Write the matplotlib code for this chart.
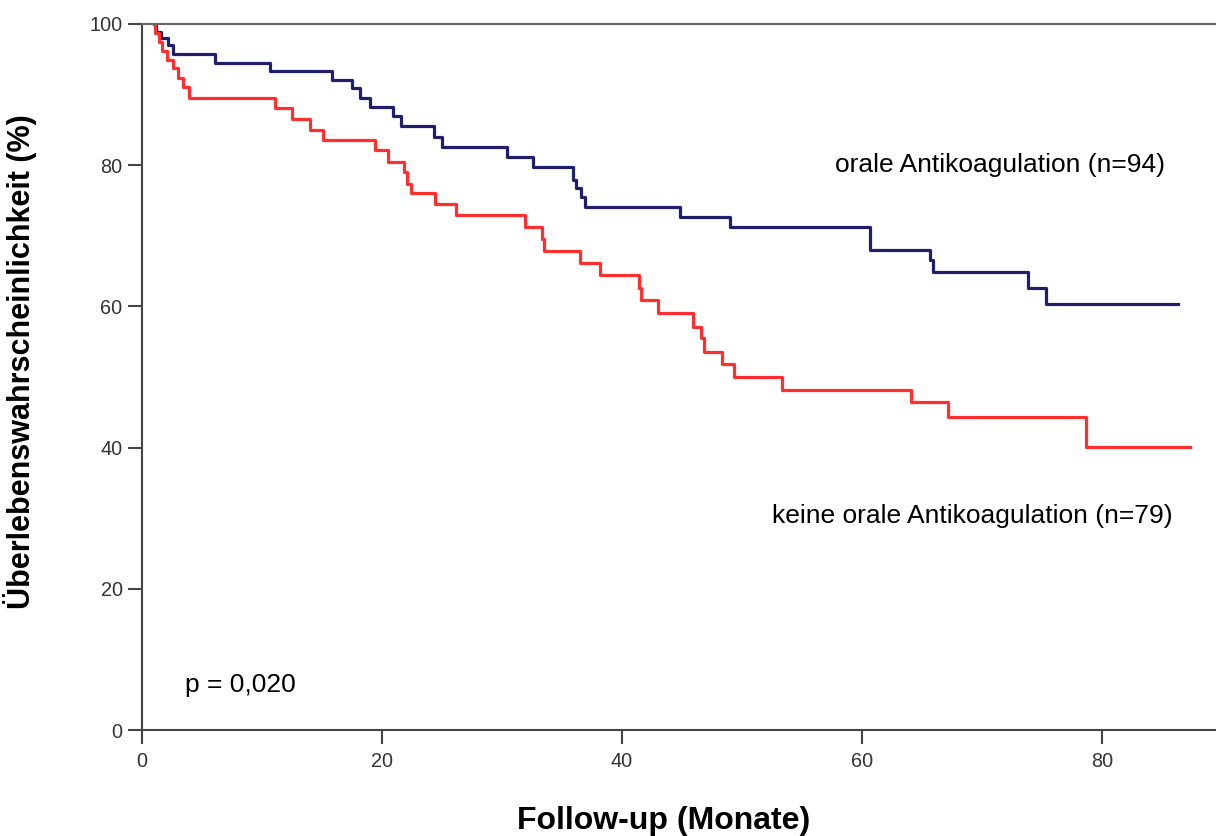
import matplotlib
matplotlib.use("Agg")
import matplotlib.pyplot as plt

# Kaplan-Meier Stufen (Monate, Überleben in %)
oak_t = [1.0, 1.2, 1.6, 2.2, 2.6, 6.1, 10.7, 15.8, 17.5, 18.2, 19.0, 20.9, 21.6, 24.3, 25.0,
         30.4, 32.6, 35.9, 36.2, 36.6, 36.9, 44.8, 49.0, 60.7, 65.7, 65.9, 73.8, 75.3, 86.3]
oak_s = [100, 98.9, 98.0, 97.0, 95.8, 94.5, 93.3, 92.1, 90.9, 89.5, 88.3, 86.9, 85.5, 84.0, 82.6,
         81.2, 79.8, 77.9, 76.8, 75.5, 74.1, 72.7, 71.3, 68.0, 66.6, 64.9, 62.6, 60.3, 60.3]

keine_t = [1.0, 1.1, 1.4, 1.7, 2.1, 2.6, 3.0, 3.4, 3.9, 11.1, 12.5, 14.0, 15.1, 19.4, 20.5,
           21.8, 22.1, 22.4, 24.4, 26.2, 31.9, 33.3, 33.5, 36.5, 38.2, 41.4, 41.6, 43.0, 45.9,
           46.6, 46.8, 48.3, 49.3, 53.3, 64.1, 67.2, 78.7, 87.3]
keine_s = [100, 98.7, 97.5, 96.2, 94.9, 93.7, 92.4, 91.1, 89.5, 88.1, 86.6, 85.0, 83.6, 82.2, 80.5,
           79.1, 77.4, 76.0, 74.5, 72.9, 71.3, 69.6, 67.8, 66.1, 64.4, 62.6, 60.9, 59.0, 57.1,
           55.5, 53.6, 51.9, 50.0, 48.2, 46.5, 44.4, 40.1, 40.1]

x_ticks = [0, 20, 40, 60, 80]
y_ticks = [0, 20, 40, 60, 80, 100]

plt.rcParams['font.family'] = ['Liberation Sans', 'DejaVu Sans']

fig = plt.figure(figsize=(12.16, 8.36), dpi=100)
ax = fig.add_axes([142 / 1216, 1 - 730 / 836, 1 - 142 / 1216, (730 - 24) / 836])

ax.step(oak_t, oak_s, where='post', color='#1f1f6e', lw=2.3)
ax.step(keine_t, keine_s, where='post', color='#ff2f2f', lw=2.3)

ax.set_xlim(0, 89.5)
ax.set_ylim(0, 100)
ax.set_xticks(x_ticks)
ax.set_yticks(y_ticks)

for side in ['left', 'bottom']:
    ax.spines[side].set_color('#444444')
    ax.spines[side].set_linewidth(1.5)
ax.spines['top'].set_color('#666666')
ax.spines['top'].set_linewidth(1.5)
ax.spines['right'].set_visible(False)

ax.tick_params(axis='x', direction='out', length=10, width=1.5, color='#444444',
               labelsize=14.3, labelcolor='#333333', pad=6)
ax.tick_params(axis='y', direction='out', length=10, width=1.5, color='#444444',
               labelsize=14.3, labelcolor='#333333', pad=4)

ax.text(57.75, 79.1, 'orale Antikoagulation (n=94)', fontsize=19, va='baseline', ha='left')
ax.text(52.5, 29.3, 'keine orale Antikoagulation (n=79)', fontsize=19, va='baseline', ha='left')
ax.text(3.6, 5.4, 'p = 0,020', fontsize=19, va='baseline', ha='left')

fig.text(664 / 1216, 1 - 821 / 836, 'Follow-up (Monate)', fontsize=23, fontweight='bold',
         ha='center', va='center')
fig.text(20 / 1216, 1 - 362 / 836, 'Überlebenswahrscheinlichkeit (%)', fontsize=22,
         fontweight='bold', rotation=90, ha='center', va='center')

fig.savefig('out.png', dpi=100)
